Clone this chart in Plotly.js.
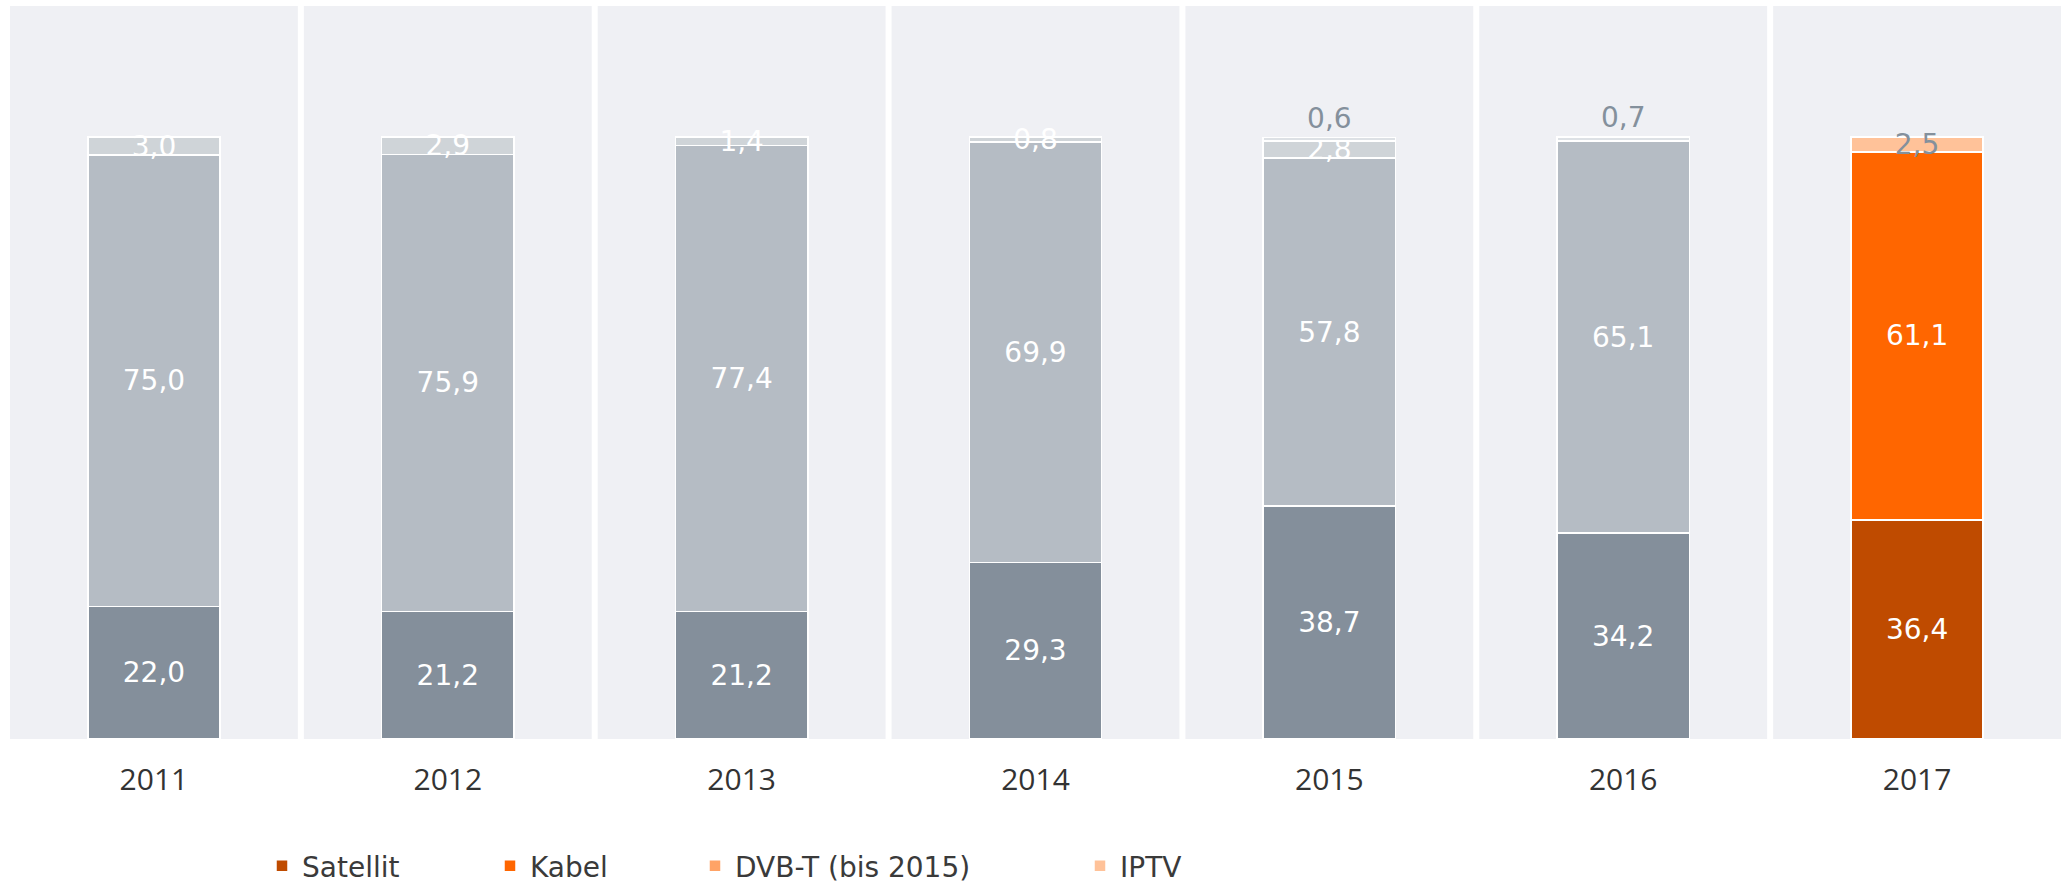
<!DOCTYPE html>
<html>
<head>
<meta charset="utf-8">
<script src="https://cdn.plot.ly/plotly-3.0.1.min.js"></script>
<style>html,body{margin:0;padding:0;background:#fff;}#chart{width:2064px;height:883px;}</style>
</head>
<body>
<div id="chart"></div>
<script>
// ---- data ----
var years = ['2011', '2012', '2013', '2014', '2015', '2016', '2017'];
var satellit = [22.0, 21.2, 21.2, 29.3, 38.7, 34.2, 36.4];
var kabel = [75.0, 75.9, 77.4, 69.9, 57.8, 65.1, 61.1];
var dvbt = [3.0, 2.9, 1.4, 0.8, 2.8, null, null];
var iptv = [null, null, null, null, 0.6, 0.7, 2.5];
var topLabels = ['= 7,6%', '= 8,1%', '=7,5%', '=7,8%', '=8,2%', '= 7,9%', '= 8,0%'];
var seriesNames = ['Satellit', 'Kabel', 'DVB-T (bis 2015)', 'IPTV'];

// ---- styles ----
var grayColors = ['#848f9b', '#b5bcc4', '#cfd4d8', '#dde1e5'];
var orangeColors = ['#bf4b00', '#ff6600', '#ffa366', '#ffc299'];
var labelFont = 'DejaVu Sans, sans-serif';
var seriesData = [satellit, kabel, dvbt, iptv];
var legendIds = ['legend', 'legend2', 'legend3', 'legend4'];
var legendTextX = [304, 532, 737, 1122];

var nGray = 6;
var traces = [];
var barW = 0.45;
for (var s = 0; s < 4; s++) {
  var isIptv = (s === 3);
  traces.push({
    type: 'bar', name: seriesNames[s], showlegend: false,
    x: years.slice(0, nGray), y: seriesData[s].slice(0, nGray),
    width: barW,
    marker: {color: grayColors[s], line: {color: '#ffffff', width: 1.5}},
    texttemplate: '%{y:.1f}',
    textposition: isIptv ? 'outside' : 'inside',
    insidetextanchor: 'middle',
    insidetextfont: {family: labelFont, size: 28, color: '#ffffff'},
    outsidetextfont: {family: labelFont, size: 28, color: '#84909c'},
    cliponaxis: false, hoverinfo: 'skip'
  });
}
for (var s2 = 0; s2 < 4; s2++) {
  var isIptv2 = (s2 === 3);
  traces.push({
    type: 'bar', name: seriesNames[s2], showlegend: true, legend: legendIds[s2],
    x: years.slice(nGray), y: seriesData[s2].slice(nGray),
    width: barW,
    marker: {color: orangeColors[s2], line: {color: '#ffffff', width: 1.5}},
    texttemplate: '%{y:.1f}',
    textposition: 'inside',
    insidetextanchor: 'middle',
    insidetextfont: {family: labelFont, size: 28, color: isIptv2 ? '#84909c' : '#ffffff'},
    cliponaxis: false, hoverinfo: 'skip'
  });
}

var gap = 3 / 293.86;
var shapes = years.map(function (y, i) {
  return {type: 'rect', xref: 'x', yref: 'paper', x0: i - 0.5 + gap, x1: i + 0.5 - gap, y0: 0, y1: 1,
    fillcolor: '#eff0f4', line: {width: 0}, layer: 'below'};
});
var annotations = years.map(function (y, i) {
  return {xref: 'x', yref: 'paper', x: y, y: 0.970, yanchor: 'middle', text: topLabels[i], showarrow: false,
    font: {family: 'Open Sans, sans-serif', size: 31, color: '#333333'}};
});

var layout = {
  width: 2064, height: 883,
  margin: {l: 7, r: 0, t: 6, b: 144},
  paper_bgcolor: '#ffffff', plot_bgcolor: '#ffffff',
  barmode: 'stack',
  separators: ',.',
  uniformtext: {mode: 'show', minsize: 28},
  xaxis: {type: 'category', range: [-0.5, 6.5], showgrid: false, zeroline: false, showline: false, ticks: '',
    tickfont: {family: 'Open Sans, sans-serif', size: 30, color: '#333333'}, ticklabelstandoff: 20, fixedrange: true},
  yaxis: {range: [0, 121.76], visible: false, fixedrange: true},
  shapes: shapes,
  annotations: annotations
};
for (var k = 0; k < 4; k++) {
  layout[legendIds[k]] = {orientation: 'h', xref: 'container', yref: 'container',
    x: (legendTextX[k] - 42) / 2064, xanchor: 'left', y: 1 - 866 / 883, yanchor: 'middle',
    bgcolor: 'rgba(0,0,0,0)', font: {family: labelFont, size: 28, color: '#3a3a3a'}};
}

Plotly.newPlot('chart', traces, layout, {displayModeBar: false, staticPlot: true});
</script>
</body>
</html>
